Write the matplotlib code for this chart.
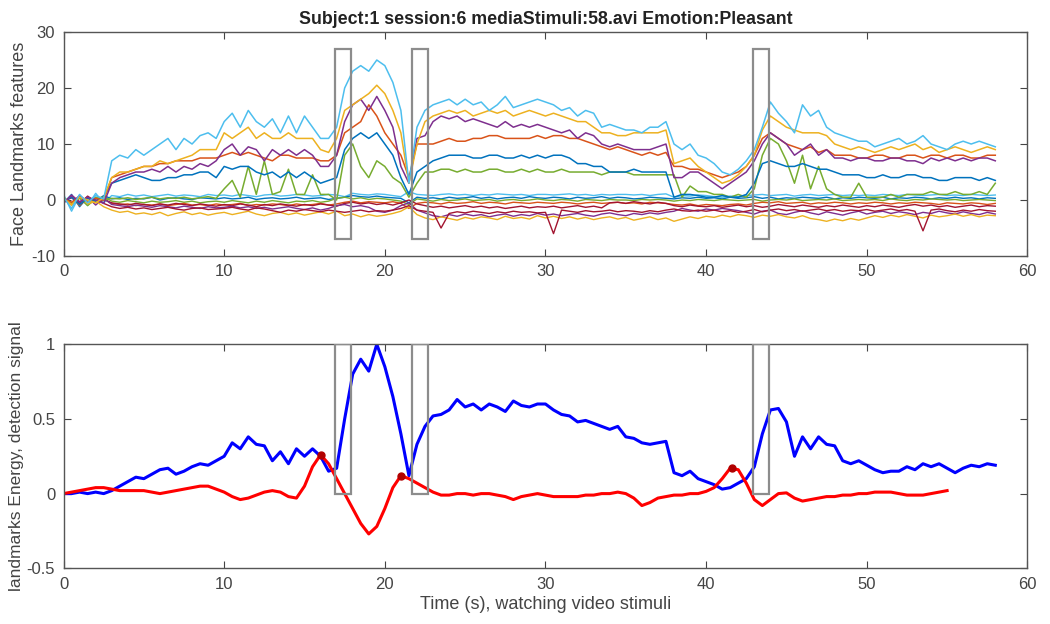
import numpy as np
import matplotlib.pyplot as plt
from matplotlib.patches import Rectangle

plt.rcParams['font.family'] = ['Liberation Sans', 'DejaVu Sans']
plt.rcParams['axes.unicode_minus'] = False

# MATLAB default colour order
C_BLUE = '#0072BD'
C_ORANGE = '#D95319'
C_YELLOW = '#EDB120'
C_PURPLE = '#7E2F8E'
C_GREEN = '#77AC30'
C_CYAN = '#4DBEEE'
C_RED = '#A2142F'

# time base, 0.5 s steps
t = np.arange(0, 58.01, 0.5)
t_det = np.arange(0, 55.01, 0.5)

# face landmark features (upper plot)
feat_cyan = [
    0.5, -1.5, 1.0, -0.5, 0.8, 0.2, 7.0, 8.0, 7.5, 9.0, 8.0, 9.0, 10.0, 11.0, 9.0, 11.0, 10.0, 11.5, 12.0, 11.0,
    14.0, 15.5, 13.0, 16.0, 14.0, 13.0, 14.5, 12.0, 15.0, 12.0, 15.0, 13.0, 11.0, 11.0, 13.0, 20.0, 23.0, 24.0, 23.0, 25.0,
    24.0, 21.0, 16.0, 3.0, 13.0, 16.0, 17.0, 17.5, 18.0, 17.0, 18.0, 17.0, 17.5, 16.0, 17.0, 18.5, 16.5, 17.0, 17.5, 18.0,
    17.5, 17.0, 16.0, 16.5, 15.0, 16.0, 15.5, 13.0, 13.5, 13.0, 12.5, 12.5, 12.0, 13.0, 13.0, 14.0, 10.0, 9.0, 10.0, 8.0,
    7.5, 6.5, 5.0, 4.5, 5.5, 7.0, 9.0, 13.0, 17.5, 15.5, 14.0, 12.0, 17.0, 15.0, 16.0, 13.0, 12.0, 11.5, 11.0, 10.5,
    10.5, 9.5, 10.0, 10.5, 11.0, 10.0, 10.5, 11.5, 10.0, 9.5, 9.0, 10.0, 10.5, 10.0, 10.5, 10.0, 9.5]
feat_yellow = [
    0.3, -0.8, 0.5, 0.0, -0.5, 0.4, 4.0, 5.0, 5.0, 5.5, 6.0, 6.0, 7.0, 6.5, 7.0, 7.5, 8.0, 9.0, 9.0, 9.0,
    12.0, 11.0, 12.0, 13.0, 11.0, 12.0, 11.0, 11.0, 12.0, 11.0, 11.0, 11.0, 9.0, 8.5, 11.0, 16.0, 17.0, 18.0, 19.0, 20.5,
    19.0, 16.0, 12.0, 3.0, 10.0, 14.0, 15.0, 15.5, 16.0, 15.5, 16.0, 15.0, 15.5, 16.0, 15.5, 16.0, 15.0, 15.5, 16.0, 15.5,
    15.0, 15.5, 15.0, 14.5, 14.0, 14.0, 13.0, 12.0, 12.0, 11.5, 11.5, 12.0, 12.0, 12.0, 12.0, 12.5, 6.5, 7.0, 7.5, 6.0,
    5.0, 4.0, 3.0, 3.5, 4.5, 6.0, 8.0, 12.5, 15.0, 14.0, 13.0, 12.5, 12.0, 12.0, 12.0, 11.5, 10.0, 9.5, 9.0, 9.5,
    9.0, 8.5, 9.0, 9.5, 9.0, 9.5, 10.0, 9.0, 9.5, 8.5, 9.0, 9.5, 9.0, 8.5, 9.0, 9.5, 9.0]
feat_purple = [
    -0.5, 0.8, -0.3, 0.5, 0.0, -0.6, 3.0, 4.0, 4.5, 5.0, 5.0, 5.5, 5.0, 6.0, 5.0, 6.0, 5.5, 6.5, 6.0, 7.0,
    9.0, 10.0, 8.0, 9.5, 9.0, 7.0, 9.0, 8.0, 9.0, 8.0, 9.0, 8.0, 6.0, 6.0, 8.0, 14.0, 17.0, 18.0, 16.0, 18.5,
    16.0, 13.0, 6.0, 3.0, 11.0, 11.5, 14.0, 15.0, 14.5, 15.0, 14.0, 14.5, 14.0, 13.5, 13.0, 14.0, 13.0, 13.5, 13.0, 13.5,
    13.0, 12.5, 12.0, 12.5, 11.0, 12.0, 11.5, 10.0, 9.5, 10.0, 9.5, 9.0, 9.0, 9.0, 9.5, 10.0, 4.0, 4.0, 5.0, 5.0,
    4.0, 3.0, 2.0, 3.0, 4.0, 5.0, 7.0, 10.0, 12.0, 11.0, 10.0, 8.0, 9.0, 10.0, 8.0, 9.0, 7.5, 7.5, 7.0, 7.5,
    7.5, 7.0, 7.0, 7.5, 7.5, 7.0, 7.0, 6.5, 7.5, 7.0, 7.5, 7.0, 7.5, 7.0, 7.5, 7.5, 7.0]
feat_orange = [
    0.2, -0.4, 0.6, -0.2, 0.3, 0.0, 4.0, 4.5, 5.0, 5.5, 6.0, 6.0, 6.5, 6.5, 7.0, 7.0, 7.0, 7.5, 7.5, 7.5,
    8.0, 8.5, 8.0, 8.5, 8.0, 7.5, 7.0, 8.0, 8.0, 7.5, 7.5, 7.5, 7.0, 7.0, 8.0, 12.0, 13.0, 14.0, 17.0, 15.0,
    12.0, 10.0, 8.0, 4.0, 10.0, 10.0, 10.0, 10.5, 11.0, 10.5, 10.5, 11.0, 11.0, 11.5, 11.5, 11.0, 11.0, 11.0, 11.0, 11.5,
    11.0, 11.5, 11.5, 11.0, 11.0, 10.5, 10.0, 9.5, 9.0, 9.5, 9.0, 8.5, 8.0, 8.5, 8.0, 8.5, 6.0, 6.0, 5.5, 5.5,
    5.0, 4.5, 4.0, 4.5, 5.0, 6.0, 8.0, 11.0, 12.0, 11.0, 10.0, 9.5, 9.0, 9.5, 8.5, 9.0, 8.0, 8.0, 8.0, 7.5,
    7.5, 8.0, 8.0, 7.5, 7.5, 8.0, 8.0, 7.5, 8.0, 8.0, 7.5, 8.0, 8.0, 7.5, 7.5, 8.0, 8.0]
feat_blue = [
    -0.3, 0.5, -0.8, 0.3, -0.2, 0.6, 3.0, 3.5, 4.0, 4.5, 4.0, 3.5, 3.5, 4.0, 4.0, 4.5, 4.5, 5.0, 5.0, 4.0,
    6.0, 5.5, 6.0, 6.0, 5.0, 4.5, 5.0, 4.0, 5.0, 4.0, 5.0, 4.0, 3.0, 3.5, 4.0, 9.0, 11.0, 12.0, 11.0, 12.0,
    10.0, 8.0, 4.0, 1.0, 5.0, 6.0, 7.0, 7.5, 8.0, 8.0, 8.0, 7.5, 7.5, 8.0, 8.0, 7.5, 7.5, 8.0, 7.5, 8.0,
    7.5, 8.0, 8.0, 7.5, 6.5, 6.5, 6.0, 6.0, 5.0, 5.0, 5.0, 5.5, 5.0, 5.0, 5.0, 5.0, 0.5, 1.0, 1.0, 0.8,
    0.5, 0.5, 0.8, 0.5, 0.5, 1.0, 3.0, 6.5, 7.0, 6.5, 6.0, 6.0, 6.5, 6.0, 5.5, 5.5, 5.0, 4.5, 4.5, 4.5,
    4.0, 4.0, 4.5, 4.0, 4.0, 4.5, 4.5, 4.0, 4.0, 3.5, 3.5, 4.0, 4.0, 4.0, 3.5, 4.0, 3.5]
feat_green = [
    0.2, -0.5, 0.4, -0.2, 0.5, 0.0, 0.3, 0.2, 0.4, 0.1, 0.3, 0.5, 0.2, 0.4, 0.3, 0.5, 0.2, 0.4, 0.6, 0.3,
    2.0, 3.5, 0.5, 6.0, 1.0, 7.0, 1.0, 1.5, 5.5, 1.0, 1.0, 4.5, 1.0, 1.0, 0.0, 8.0, 10.0, 6.0, 4.0, 7.0,
    6.0, 4.0, 3.0, 0.5, 3.0, 5.0, 5.0, 5.5, 5.5, 5.0, 5.5, 5.0, 5.0, 5.5, 5.5, 5.0, 5.0, 5.5, 5.0, 5.5,
    5.0, 5.0, 5.5, 5.0, 5.0, 5.0, 5.0, 4.5, 5.0, 5.0, 5.0, 4.5, 4.5, 4.5, 4.5, 4.5, 4.5, 0.5, 2.5, 1.5,
    1.5, 1.0, 1.0, 0.5, 1.0, 0.5, 2.0, 8.0, 11.0, 10.0, 7.0, 3.0, 8.0, 2.0, 6.0, 2.0, 1.0, 0.5, 0.5, 3.0,
    0.5, 0.5, 0.5, 1.0, 0.5, 1.0, 1.0, 1.0, 1.5, 1.0, 1.0, 1.5, 1.0, 1.0, 1.5, 1.0, 3.0]

# features that stay around zero
flat_cyan = [
    1.0, -2.0, 0.8, -1.0, 1.2, -0.5, 0.8, 0.6, 1.0, 0.7, 0.9, 0.6, 0.8, 1.0, 0.7, 0.9, 0.8, 0.6, 1.0, 0.8,
    0.9, 0.7, 1.0, 0.8, 0.6, 0.9, 1.0, 0.7, 0.8, 1.0, 0.9, 0.7, 0.8, 1.0, 0.9, 0.6, 1.2, 1.0, 0.9, 1.1,
    1.0, 0.8, 0.6, 1.5, 1.0, 0.9, 0.8, 1.0, 1.1, 0.9, 1.0, 0.8, 1.0, 0.9, 1.1, 1.0, 0.9, 1.0, 0.8, 1.0,
    1.0, 0.9, 1.0, 1.1, 0.9, 1.0, 0.8, 1.0, 0.9, 1.0, 1.0, 0.9, 1.0, 0.8, 1.0, 1.1, 0.5, 0.8, 0.7, 0.9,
    0.8, 0.6, 0.5, 0.7, 0.6, 0.8, 0.9, 1.0, 0.8, 0.9, 1.0, 0.7, 0.9, 1.0, 0.8, 0.9, 1.0, 0.8, 0.9, 0.8,
    0.9, 0.8, 1.0, 0.9, 0.8, 1.0, 0.9, 0.8, 0.9, 1.0, 0.8, 0.9, 0.8, 1.0, 0.9, 0.8, 0.9]
flat_blue = [
    -0.5, 1.0, -1.2, 0.5, -0.3, 0.8, 0.2, 0.4, 0.1, 0.3, 0.2, 0.5, 0.0, 0.3, 0.4, 0.2, 0.1, 0.4, 0.3, 0.2,
    0.4, 0.2, 0.3, 0.5, 0.1, 0.3, 0.4, 0.2, 0.3, 0.5, 0.2, 0.3, 0.4, 0.1, 0.3, 0.5, 0.8, 0.6, 0.5, 0.7,
    0.5, 0.4, 0.3, -0.5, 0.5, 0.3, 0.4, 0.2, 0.5, 0.3, 0.4, 0.6, 0.3, 0.5, 0.2, 0.4, 0.5, 0.3, 0.6, 0.4,
    0.3, 0.5, 0.4, 0.2, 0.5, 0.3, 0.4, 0.6, 0.3, 0.5, 0.4, 0.2, 0.3, 0.5, 0.4, 0.3, 0.2, 0.4, 0.3, 0.5,
    0.3, 0.4, 0.2, 0.5, 0.3, 0.4, 0.6, 0.3, 0.5, 0.2, 0.4, 0.3, 0.5, 0.4, 0.3, 0.5, 0.2, 0.4, 0.3, 0.5,
    0.4, 0.3, 0.5, 0.2, 0.4, 0.3, 0.5, 0.4, 0.2, 0.4, 0.3, 0.5, 0.3, 0.4, 0.2, 0.4, 0.3]
flat_green = [
    0.5, -0.8, 0.3, -1.0, 0.2, 0.6, -0.2, -0.4, -0.1, -0.3, -0.5, -0.2, -0.4, -0.3, -0.1, -0.4, -0.2, -0.5, -0.3, -0.2,
    -0.4, -0.1, -0.3, -0.5, -0.2, -0.4, -0.1, -0.3, -0.5, -0.2, -0.3, -0.1, -0.4, -0.2, 0.3, 0.5, 0.2, 0.4, 0.1, 0.3,
    0.2, 0.0, -0.2, -0.8, 0.2, 0.0, -0.2, 0.1, -0.1, 0.0, 0.2, -0.1, 0.0, 0.1, -0.2, 0.0, 0.1, -0.1, 0.0, 0.2,
    0.0, -0.1, 0.1, 0.0, -0.2, 0.1, 0.0, -0.1, 0.1, 0.0, 0.0, -0.1, 0.1, 0.0, 0.1, 0.0, -0.2, 0.0, -0.1, 0.1,
    0.0, -0.1, 0.1, 0.0, -0.1, 0.0, 0.1, -0.2, 0.0, 0.1, 0.0, 0.2, -0.1, 0.0, 0.1, 0.0, 0.2, -0.1, 0.0, 0.1,
    0.0, 0.1, -0.1, 0.2, 0.0, -0.1, 0.1, 0.0, 0.2, 0.1, 0.0, 0.1, -0.1, 0.0, 0.1, 0.0, -0.1]
flat_orange = [
    -0.3, 0.6, -1.0, 0.4, -0.5, 0.2, -0.6, -0.8, -0.7, -1.0, -0.8, -0.9, -0.7, -1.0, -0.8, -0.6, -0.9, -0.8, -1.0, -0.7,
    -0.9, -0.8, -0.6, -1.0, -0.8, -0.9, -0.7, -0.8, -1.0, -0.7, -0.9, -0.8, -0.6, -0.9, -0.7, -0.4, -0.2, -0.5, -0.3, -0.4,
    -0.5, -0.3, -0.6, -1.5, -0.6, -0.4, -0.5, -0.7, -0.4, -0.6, -0.5, -0.3, -0.6, -0.4, -0.5, -0.7, -0.4, -0.5, -0.6, -0.4,
    -0.5, -0.6, -0.4, -0.5, -0.7, -0.5, -0.4, -0.6, -0.5, -0.4, -0.6, -0.5, -0.7, -0.4, -0.5, -0.6, -0.8, -0.9, -0.7, -1.0,
    -0.8, -0.9, -1.0, -0.8, -0.7, -0.9, -0.6, -0.4, -0.5, -0.3, -0.6, -0.5, -0.4, -0.7, -0.5, -0.6, -0.4, -0.5, -0.7, -0.5,
    -0.6, -0.4, -0.5, -0.7, -0.5, -0.6, -0.4, -0.5, -0.6, -0.8, -0.5, -0.6, -0.7, -0.5, -0.6, -0.8, -0.6]
flat_red = [
    0.2, -0.5, 0.8, -0.3, 0.4, -0.6, -1.2, -1.5, -1.3, -1.6, -1.4, -1.7, -1.5, -1.3, -1.6, -1.8, -1.5, -1.4, -1.7, -1.6,
    -1.5, -1.3, -1.6, -1.8, -1.4, -1.6, -1.9, -2.2, -1.8, -2.0, -1.7, -1.9, -2.1, -1.8, -2.0, -2.2, -2.0, -1.8, -2.1, -1.9,
    -2.0, -1.8, -1.5, -1.0, -1.8, -2.0, -2.2, -5.0, -2.4, -2.1, -2.3, -2.0, -2.2, -2.4, -2.1, -2.3, -2.0, -2.2, -2.1, -2.3,
    -2.2, -6.0, -1.8, -2.0, -2.2, -1.9, -2.1, -2.0, -1.8, -2.1, -1.9, -2.0, -2.2, -1.9, -2.1, -1.8, -1.6, -1.9, -2.0, -1.8,
    -2.0, -1.8, -2.1, -1.9, -2.2, -2.0, -1.7, -2.1, -1.8, -1.6, -1.9, -1.7, -2.0, -1.8, -1.6, -1.9, -1.7, -2.0, -1.8, -1.9,
    -1.7, -2.0, -1.8, -1.6, -1.9, -1.7, -2.0, -5.5, -1.8, -1.6, -1.9, -2.1, -1.8, -2.0, -1.7, -1.9, -2.0]
flat_purple = [
    -0.6, 0.9, -0.4, 0.5, -0.9, 0.3, -0.8, -1.0, -1.2, -0.9, -1.1, -1.3, -1.0, -1.2, -1.4, -1.1, -1.3, -1.5, -1.2, -1.4,
    -1.3, -1.1, -1.4, -1.2, -1.5, -1.3, -1.6, -1.4, -1.2, -1.5, -1.7, -1.4, -1.8, -1.5, -1.0, -0.8, -1.2, -1.0, -1.3, -2.0,
    -2.2, -1.8, -1.0, -0.5, -1.8, -2.3, -2.8, -3.0, -2.6, -2.9, -2.5, -2.8, -2.6, -3.0, -2.7, -2.5, -2.9, -2.6, -2.8, -2.4,
    -2.7, -2.5, -2.8, -2.6, -2.4, -2.7, -2.9, -2.5, -2.3, -2.6, -2.8, -2.4, -2.6, -2.3, -2.5, -2.2, -2.0, -1.5, -1.8, -2.0,
    -1.6, -1.8, -1.5, -1.7, -1.9, -2.2, -2.5, -2.0, -1.8, -2.4, -2.6, -2.2, -1.9, -2.3, -2.6, -2.1, -2.4, -2.7, -2.3, -2.0,
    -2.5, -2.2, -2.0, -2.4, -2.1, -2.3, -2.6, -2.2, -2.4, -2.0, -2.3, -2.5, -2.1, -2.4, -2.6, -2.2, -2.5]
flat_yellow = [
    0.4, -1.0, 0.6, -0.7, -0.2, -1.2, -1.8, -2.2, -2.0, -2.5, -2.3, -2.6, -2.2, -2.8, -2.4, -2.1, -2.6, -2.3, -2.7, -2.4,
    -2.2, -2.6, -2.3, -2.0, -2.5, -2.8, -2.4, -2.2, -2.6, -2.3, -2.7, -2.4, -2.1, -2.5, -2.0, -2.8, -2.5, -3.0, -2.6, -2.9,
    -2.7, -2.4, -2.0, -1.2, -2.6, -3.2, -3.5, -3.0, -3.3, -3.6, -3.1, -3.4, -3.0, -3.2, -3.5, -2.9, -3.3, -3.1, -3.4, -2.8,
    -3.2, -2.9, -3.3, -3.0, -3.4, -3.1, -3.5, -3.2, -3.0, -3.4, -3.1, -3.6, -3.3, -3.0, -3.5, -3.2, -3.8, -3.4, -3.0, -3.3,
    -2.9, -3.1, -2.7, -3.0, -2.6, -2.8, -3.1, -2.7, -2.9, -2.6, -3.0, -3.2, -2.8, -3.3, -3.5, -3.8, -3.4, -3.7, -3.3, -3.6,
    -3.2, -2.8, -3.1, -2.7, -3.0, -2.6, -2.9, -3.2, -2.7, -3.0, -2.8, -2.5, -2.9, -2.6, -3.0, -2.7, -2.8]
flat_red2 = [
    -0.2, 0.4, -0.6, 0.7, -0.3, 0.1, -0.5, -0.7, -0.9, -0.6, -0.8, -1.0, -0.7, -0.9, -0.6, -0.8, -1.0, -0.7, -0.9, -1.1,
    -0.8, -1.0, -0.7, -0.9, -1.2, -0.8, -1.0, -0.7, -0.9, -1.1, -0.8, -1.0, -0.7, -0.9, -1.1, -0.6, -0.4, -0.7, -0.5, -0.8,
    -0.6, -0.9, -0.5, 0.0, -0.7, -1.0, -1.3, -1.1, -1.4, -1.2, -1.0, -1.3, -1.1, -1.4, -1.2, -1.5, -1.3, -1.1, -1.4, -1.2,
    -1.3, -1.1, -1.4, -1.2, -1.0, -1.3, -1.1, -1.4, -0.5, -0.4, -0.6, -0.3, -0.5, -0.7, -0.4, -0.6, -1.0, -1.2, -0.9, -1.1,
    -1.2, -1.0, -1.3, -1.1, -0.9, -1.2, -1.0, -1.3, -1.1, -0.8, -1.0, -1.2, -0.9, -1.1, -1.3, -1.0, -1.2, -0.9, -1.1, -1.3,
    -1.0, -1.2, -0.9, -1.1, -1.3, -1.0, -0.8, -1.1, -0.9, -1.2, -1.0, -1.3, -1.1, -0.9, -1.2, -1.0, -1.1]

# landmark energy and detection signal (lower plot)
energy = [
    0.00, 0.00, 0.01, 0.00, 0.01, 0.00, 0.02, 0.05, 0.08, 0.11, 0.10, 0.13, 0.16, 0.17, 0.13, 0.15, 0.18, 0.20, 0.19, 0.22,
    0.25, 0.34, 0.30, 0.38, 0.33, 0.32, 0.22, 0.28, 0.20, 0.30, 0.25, 0.30, 0.25, 0.15, 0.17, 0.50, 0.80, 0.90, 0.82, 1.00,
    0.85, 0.65, 0.40, 0.12, 0.33, 0.45, 0.52, 0.53, 0.56, 0.63, 0.58, 0.60, 0.56, 0.60, 0.58, 0.55, 0.62, 0.59, 0.58, 0.60,
    0.60, 0.56, 0.53, 0.52, 0.48, 0.49, 0.47, 0.45, 0.43, 0.45, 0.38, 0.37, 0.34, 0.33, 0.34, 0.35, 0.14, 0.12, 0.15, 0.10,
    0.08, 0.06, 0.03, 0.04, 0.07, 0.10, 0.18, 0.40, 0.56, 0.57, 0.48, 0.25, 0.38, 0.30, 0.38, 0.33, 0.32, 0.22, 0.20, 0.22,
    0.19, 0.16, 0.14, 0.15, 0.15, 0.18, 0.16, 0.20, 0.18, 0.20, 0.17, 0.14, 0.17, 0.19, 0.18, 0.20, 0.19]
detection = [
    0.00, 0.01, 0.02, 0.03, 0.04, 0.04, 0.03, 0.02, 0.02, 0.02, 0.02, 0.01, 0.00, 0.01, 0.02, 0.03, 0.04, 0.05, 0.05, 0.03,
    0.01, -0.02, -0.04, -0.03, -0.01, 0.01, 0.02, 0.01, -0.02, -0.03, 0.05, 0.18, 0.26, 0.20, 0.10, 0.00, -0.10, -0.20, -0.27, -0.22,
    -0.10, 0.04, 0.12, 0.10, 0.07, 0.04, 0.01, -0.01, -0.01, 0.00, 0.00, -0.01, 0.00, 0.00, -0.01, -0.02, -0.04, -0.02, -0.01, 0.00,
    -0.01, -0.02, -0.02, -0.02, -0.02, -0.01, -0.01, 0.00, 0.00, 0.01, 0.00, -0.03, -0.08, -0.06, -0.03, -0.02, -0.01, -0.01, 0.00, 0.00,
    0.015, 0.04, 0.10, 0.17, 0.16, 0.07, -0.04, -0.08, -0.04, 0.00, 0.005, -0.03, -0.05, -0.04, -0.03, -0.02, -0.02, -0.01, -0.01, 0.00,
    0.00, 0.01, 0.01, 0.01, 0.00, -0.01, -0.01, -0.01, 0.00, 0.01, 0.02]

# detected peaks of the detection signal
peak_t = [16.0, 21.0, 41.6]
peak_v = [0.26, 0.12, 0.17]

# marked segments (start, end)
segments = [(16.9, 17.9), (21.7, 22.7), (42.9, 43.9)]

fig = plt.figure(figsize=(10.5, 6.24), dpi=100)
ax1 = fig.add_axes([0.0605, 0.5897, 0.918, 0.359])
ax2 = fig.add_axes([0.0605, 0.0893, 0.918, 0.359])

flat = [(flat_cyan, C_CYAN), (flat_blue, C_BLUE), (flat_green, C_GREEN), (flat_orange, C_ORANGE),
        (flat_red2, C_RED), (flat_purple, C_PURPLE), (flat_yellow, C_YELLOW), (flat_red, C_RED)]
for vals, col in flat:
    ax1.plot(t, vals, color=col, lw=1.0)

main = [(feat_green, C_GREEN), (feat_blue, C_BLUE), (feat_orange, C_ORANGE),
        (feat_purple, C_PURPLE), (feat_yellow, C_YELLOW), (feat_cyan, C_CYAN)]
for vals, col in main:
    ax1.plot(t, vals, color=col, lw=1.1)

for a, b in segments:
    ax1.add_patch(Rectangle((a, -7), b - a, 34, fill=False, ec='#8c8c8c', lw=1.6, zorder=5))
    ax2.add_patch(Rectangle((a, 0), b - a, 1, fill=False, ec='#8c8c8c', lw=1.6, zorder=5))

ax2.plot(t, energy, color='#0000FF', lw=2.2)
ax2.plot(t_det, detection, color='#FF0000', lw=2.2)
ax2.plot(peak_t, peak_v, 'o', color='#B00000', ms=5, zorder=6)

ax1.set_xlim(0, 60)
ax1.set_ylim(-10, 30)
ax1.set_yticks([-10, 0, 10, 20, 30])
ax1.set_title('Subject:1 session:6 mediaStimuli:58.avi Emotion:Pleasant',
              fontsize=12.8, fontweight='bold', color='#222222', pad=6)
ax1.set_ylabel('Face Landmarks features', fontsize=13, color='#444444', labelpad=2)

ax2.set_xlim(0, 60)
ax2.set_ylim(-0.5, 1)
ax2.set_yticks([-0.5, 0, 0.5, 1])
ax2.set_yticklabels(['-0.5', '0', '0.5', '1'])
ax2.set_xlabel('Time (s), watching video stimuli', fontsize=13, color='#444444', labelpad=3)
ax2.set_ylabel('landmarks Energy, detection signal', fontsize=12.5, color='#444444', labelpad=2)

for ax in (ax1, ax2):
    ax.set_xticks(range(0, 61, 10))
    ax.tick_params(direction='in', top=True, right=True, length=5, width=0.8,
                   labelsize=12, colors='#444444', pad=6)
    for s in ax.spines.values():
        s.set_color('#555555')
        s.set_linewidth(1.0)

fig.savefig('out.png', dpi=100)
